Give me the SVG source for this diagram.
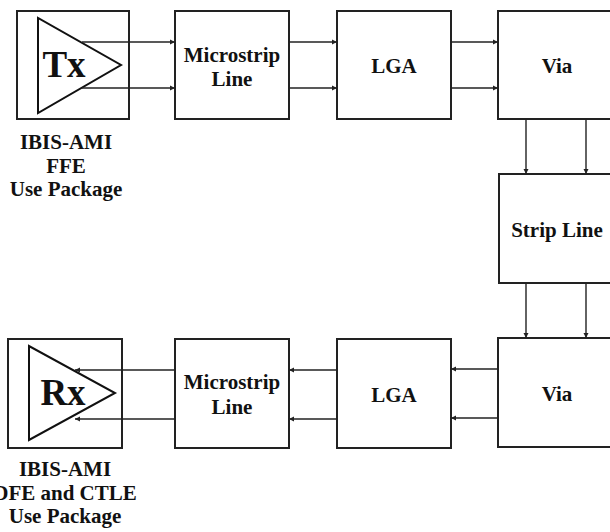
<svg xmlns="http://www.w3.org/2000/svg" width="610" height="532" viewBox="0 0 610 532">
<style>
.box{fill:#fff;stroke:#222;stroke-width:2}
.tri{fill:none;stroke:#111;stroke-width:2}
.t{font-family:'Liberation Serif',Tinos,'Times New Roman',serif;font-weight:700;font-size:21px;fill:#111;text-anchor:middle}
.big{font-size:37px}
.c{fill:none;stroke:#222;stroke-width:1.4;marker-end:url(#ah)}
</style>
<defs>
<marker id="ah" markerWidth="6" markerHeight="6" refX="5" refY="3" orient="auto" markerUnits="userSpaceOnUse">
<path d="M0,0.5 L5,3 L0,5.5 Z" fill="#222"/>
</marker>
</defs>
<rect width="610" height="532" fill="#fff"/>
<g id="tx">
<rect class="box" x="17" y="11" width="112" height="108"/>
<path class="tri" d="M38,18 L38,113 L121,65 Z"/>
<text class="t big" x="64" y="77" font-family="Liberation Serif">Tx</text>
<text class="t" x="66" y="149">IBIS-AMI</text>
<text class="t" x="66" y="173">FFE</text>
<text class="t" x="66" y="196">Use Package</text>
</g>
<g id="microstrip1">
<rect class="box" x="175" y="11" width="114" height="108"/>
<text class="t" x="232" y="62">Microstrip</text>
<text class="t" x="232" y="86">Line</text>
</g>
<g id="lga1">
<rect class="box" x="337" y="11" width="114" height="108"/>
<text class="t" x="394" y="73">LGA</text>
</g>
<g id="via1">
<rect class="box" x="498" y="11" width="114" height="108"/>
<text class="t" x="557" y="73">Via</text>
</g>
<g id="stripline">
<rect class="box" x="499" y="174" width="114" height="109"/>
<text class="t" x="557" y="237">Strip Line</text>
</g>
<g id="via2">
<rect class="box" x="498" y="338" width="114" height="109"/>
<text class="t" x="557" y="401">Via</text>
</g>
<g id="lga2">
<rect class="box" x="337" y="339" width="114" height="109"/>
<text class="t" x="394" y="402">LGA</text>
</g>
<g id="microstrip2">
<rect class="box" x="175" y="339" width="114" height="109"/>
<text class="t" x="232" y="389">Microstrip</text>
<text class="t" x="232" y="414">Line</text>
</g>
<g id="rx">
<rect class="box" x="8" y="339" width="114" height="109"/>
<path class="tri" d="M29,346 L29,440 L115,393 Z"/>
<text class="t big" x="63" y="405">Rx</text>
<text class="t" x="65" y="476">IBIS-AMI</text>
<text class="t" x="65" y="500">DFE and CTLE</text>
<text class="t" x="65" y="523">Use Package</text>
</g>
<g id="connectors">
<path class="c" d="M82,42 H175"/>
<path class="c" d="M82,88 H175"/>
<path class="c" d="M289,42 H337"/>
<path class="c" d="M289,88 H337"/>
<path class="c" d="M451,42 H498"/>
<path class="c" d="M451,88 H498"/>
<path class="c" d="M526,119 V174"/>
<path class="c" d="M586,119 V174"/>
<path class="c" d="M526,283 V338"/>
<path class="c" d="M586,283 V338"/>
<path class="c" d="M498,369 H451"/>
<path class="c" d="M498,418 H451"/>
<path class="c" d="M337,370 H289"/>
<path class="c" d="M337,419 H289"/>
<path class="c" d="M175,370 H75"/>
<path class="c" d="M175,419 H75"/>
</g>
</svg>
